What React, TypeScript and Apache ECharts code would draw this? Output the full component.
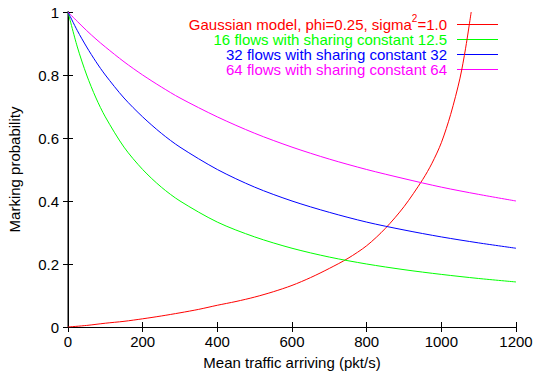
import React, { useEffect, useRef } from "react";
import * as echarts from "echarts";

const FONT = "Liberation Sans, Arial, sans-serif";

const xTicks = [0, 200, 400, 600, 800, 1000, 1200];
const yTicks = [0, 0.2, 0.4, 0.6, 0.8, 1];

// Gaussian model (red)
const redX = [0, 50, 100, 150, 200, 250, 300, 350, 400, 450, 500, 550, 600, 650, 700, 750, 800, 850, 900, 950, 975, 1000, 1025, 1050, 1065, 1080];
const redY = [0, 0.005, 0.012, 0.018, 0.026, 0.035, 0.045, 0.056, 0.069, 0.081, 0.095, 0.112, 0.132, 0.157, 0.186, 0.218, 0.258, 0.313, 0.382, 0.468, 0.52, 0.585, 0.675, 0.79, 0.885, 1.0];

// flow curves share the same x samples
const flowX = [0, 25, 50, 75, 100, 150, 200, 250, 300, 400, 500, 600, 700, 800, 900, 1000, 1100, 1200];
const green16 = [1, 0.889, 0.8, 0.727, 0.667, 0.571, 0.5, 0.444, 0.4, 0.333, 0.286, 0.25, 0.222, 0.2, 0.182, 0.167, 0.154, 0.143];
const blue32 = [1, 0.941, 0.889, 0.842, 0.8, 0.727, 0.667, 0.615, 0.571, 0.5, 0.444, 0.4, 0.364, 0.333, 0.308, 0.286, 0.267, 0.25];
const magenta64 = [1, 0.97, 0.941, 0.914, 0.889, 0.842, 0.8, 0.762, 0.727, 0.667, 0.615, 0.571, 0.533, 0.5, 0.471, 0.444, 0.421, 0.4];

const seriesNames = [
  "Gaussian model, phi=0.25, sigma^2=1.0",
  "16 flows with sharing constant 12.5",
  "32 flows with sharing constant 32",
  "64 flows with sharing constant 64",
];
const colors = ["#ff0000", "#00ff00", "#0000ff", "#ff00ff"];

const zip = (xs: number[], ys: number[]) => xs.map((x, i) => [x, ys[i]]);

function measure(text: string, size: number): number {
  const c = document.createElement("canvas").getContext("2d");
  if (!c) return text.length * size * 0.5;
  c.font = `${size}px "Liberation Sans", Arial, sans-serif`;
  return c.measureText(text).width;
}

export default function App() {
  const ref = useRef<HTMLDivElement>(null);
  useEffect(() => {
    document.body.style.margin = "0";
    if (!ref.current) return;
    const chart = echarts.init(ref.current, undefined, { renderer: "svg" });
    const seriesData = [
      zip(redX, redY),
      zip(flowX, green16),
      zip(flowX, blue32),
      zip(flowX, magenta64),
    ];
    const rowY = [24, 39, 54, 69];
    const textRight = 447;
    const graphics: any[] = [];
    const txt = (x: number, y: number, t: string, size: number, color: string, align: string, lh: number) => ({
      type: "text",
      x,
      y,
      style: { text: t, fontSize: size, lineHeight: lh, fontFamily: FONT, fill: color, align, verticalAlign: "middle" },
    });
    const wEnd = measure("=1.0", 15);
    const wSup = measure("2", 10);
    graphics.push(txt(textRight, rowY[0], "=1.0", 15, colors[0], "right", 13));
    graphics.push(txt(textRight - wEnd - wSup / 2, rowY[0] - 6, "2", 10, colors[0], "center", 8));
    graphics.push(txt(textRight - wEnd - wSup, rowY[0], "Gaussian model, phi=0.25, sigma", 15, colors[0], "right", 13));
    for (let i = 1; i < 4; i++) {
      graphics.push(txt(textRight, rowY[i], seriesNames[i], 15, colors[i], "right", 13));
    }
    for (let i = 0; i < 4; i++) {
      graphics.push({
        type: "line",
        shape: { x1: 457, y1: rowY[i] + 0.5, x2: 498, y2: rowY[i] + 0.5 },
        style: { stroke: colors[i], lineWidth: 1 },
      });
    }
    const axisCommon = {
      type: "value" as const,
      splitLine: { show: false },
    };
    chart.setOption({
      animation: false,
      backgroundColor: "#fff",
      grid: { left: 68, right: 17, top: 12, bottom: 47, containLabel: false, outerBoundsMode: "none" },
      xAxis: [
        {
          ...axisCommon,
          position: "bottom",
          min: xTicks[0],
          max: xTicks[xTicks.length - 1],
          interval: 200,
          axisLine: { show: true, lineStyle: { color: "#000", width: 1 } },
          axisTick: { show: true, inside: true, length: 5, lineStyle: { color: "#000" } },
          axisLabel: { margin: 7, fontSize: 15, fontFamily: FONT, color: "#000", formatter: (v: number) => String(v) },
          name: "Mean traffic arriving (pkt/s)",
          nameLocation: "middle",
          nameGap: 28,
          nameTextStyle: { fontSize: 15, fontFamily: FONT, color: "#000" },
        },
        {
          ...axisCommon,
          position: "top",
          min: xTicks[0],
          max: xTicks[xTicks.length - 1],
          interval: 200,
          axisLine: { show: true, lineStyle: { color: "#000", width: 1 } },
          axisTick: { show: true, inside: true, length: 5, lineStyle: { color: "#000" } },
          axisLabel: { show: false },
        },
      ],
      yAxis: [
        {
          ...axisCommon,
          position: "left",
          min: yTicks[0],
          max: yTicks[yTicks.length - 1],
          interval: 0.2,
          axisLine: { show: true, lineStyle: { color: "#808080", width: 2 } },
          axisTick: { show: true, inside: true, length: 5, lineStyle: { color: "#000" } },
          axisLabel: { margin: 9, fontSize: 15, fontFamily: FONT, color: "#000", formatter: (v: number) => String(v) },
          name: "Marking probability",
          nameLocation: "middle",
          nameGap: 46,
          nameTextStyle: { fontSize: 15, fontFamily: FONT, color: "#000" },
        },
        {
          ...axisCommon,
          position: "right",
          min: yTicks[0],
          max: yTicks[yTicks.length - 1],
          interval: 0.2,
          axisLine: { show: true, lineStyle: { color: "#000", width: 1 } },
          axisTick: { show: true, inside: true, length: 5, lineStyle: { color: "#000" } },
          axisLabel: { show: false },
        },
      ],
      series: seriesData.map((d, i) => ({
        name: seriesNames[i],
        type: "line",
        data: d,
        xAxisIndex: 0,
        yAxisIndex: 0,
        showSymbol: false,
        smooth: 0.3,
        lineStyle: { color: colors[i], width: 1 },
        itemStyle: { color: colors[i] },
        clip: true,
      })),
      graphic: graphics,
    });
    return () => chart.dispose();
  }, []);
  return <div ref={ref} style={{ width: 533, height: 374 }} />;
}
